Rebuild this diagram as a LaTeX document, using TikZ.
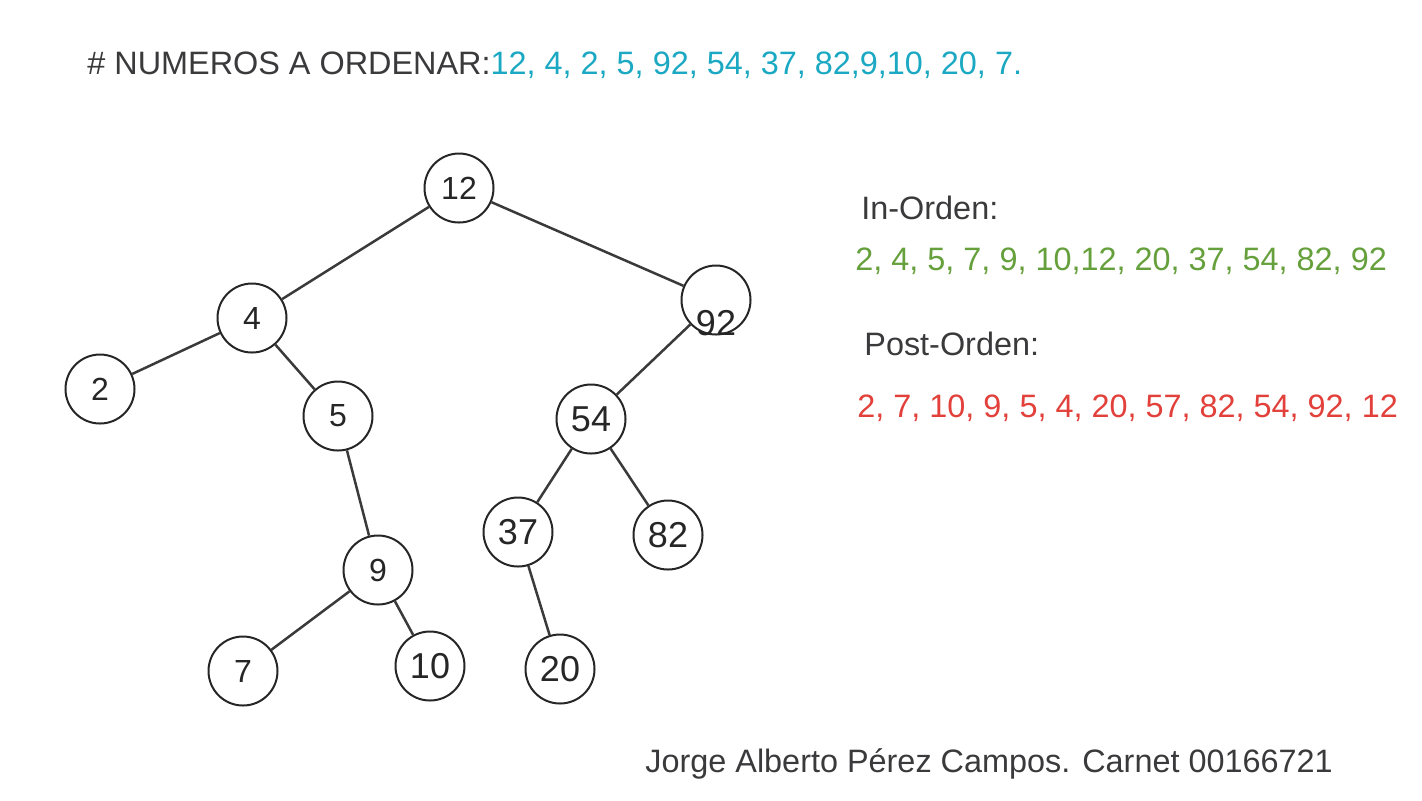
\documentclass[tikz,border=0pt]{standalone}
\usepackage{fontspec}
\setmainfont{Liberation Sans}
\definecolor{numblue}{HTML}{1BA8C2}
\definecolor{ingreen}{HTML}{66A03C}
\definecolor{postred}{HTML}{E2403A}
\definecolor{inkgray}{HTML}{3A3A3C}
\tikzset{
	num/.style = {circle, draw = black!85, line width = 1pt, minimum size = 34.5pt, inner sep = 0pt, text = black!85, font = \fontsize{16}{18}\selectfont},
	bignum/.style = {num, font = \fontsize{18}{20}\selectfont},
	edge/.style = {draw = inkgray, line width = 1.25pt},
	txt/.style = {anchor = base west, inner sep = 0pt, text = inkgray, font = \fontsize{16.2}{19}\selectfont}
}
\begin{document}
	\begin{tikzpicture}[x = 0.5pt, y = -0.5pt]
		\useasboundingbox (0,0) rectangle (1422,800);
		\node [txt] (titulo) at (87,74) {\# NUMEROS A ORDENAR:\textcolor{numblue}{12, 4, 2, 5, 92, 54, 37, 82,9,10, 20, 7.}};
		\node [num] (n12) at (459,188) {12};
		\node [num] (n4) at (252,318) {4};
		\node [num] (n2) at (100,389) {2};
		\node [num] (n5) at (338,416) {5};
		\node [num] (n9) at (378,570) {9};
		\node [num] (n7) at (243,671) {7};
		\node [bignum] (n10) at (430,666) {10};
		\node [bignum, label = {[font = \fontsize{18}{20}\selectfont, text = black!85, yshift = -11.5pt]center:92}] (n92) at (716,300) {};
		\node [bignum] (n54) at (591,419) {54};
		\node [bignum] (n37) at (518,532) {37};
		\node [bignum] (n82) at (668,535) {82};
		\node [bignum] (n20) at (560,669) {20};
		\draw [edge] (n12) -- (n4);
		\draw [edge] (n12) -- (n92);
		\draw [edge] (n4) -- (n2);
		\draw [edge] (n4) -- (n5);
		\draw [edge] (n5) -- (n9);
		\draw [edge] (n9) -- (n7);
		\draw [edge] (n9) -- (n10);
		\draw [edge] (n92) -- (n54);
		\draw [edge] (n54) -- (n37);
		\draw [edge] (n54) -- (n82);
		\draw [edge] (n37) -- (n20);
		\node [txt] (inorden) at (861,219) {In-Orden:};
		\node [txt, text = ingreen] (inlista) at (855,270) {2, 4, 5, 7, 9, 10,12, 20, 37, 54, 82, 92};
		\node [txt] (postorden) at (864,355) {Post-Orden:};
		\node [txt, text = postred] (postlista) at (857,417) {2, 7, 10, 9, 5, 4, 20, 57, 82, 54, 92, 12};
		\node [txt] (autor) at (645,772) {Jorge Alberto Pérez Campos. Carnet 00166721};
	\end{tikzpicture}
\end{document}
